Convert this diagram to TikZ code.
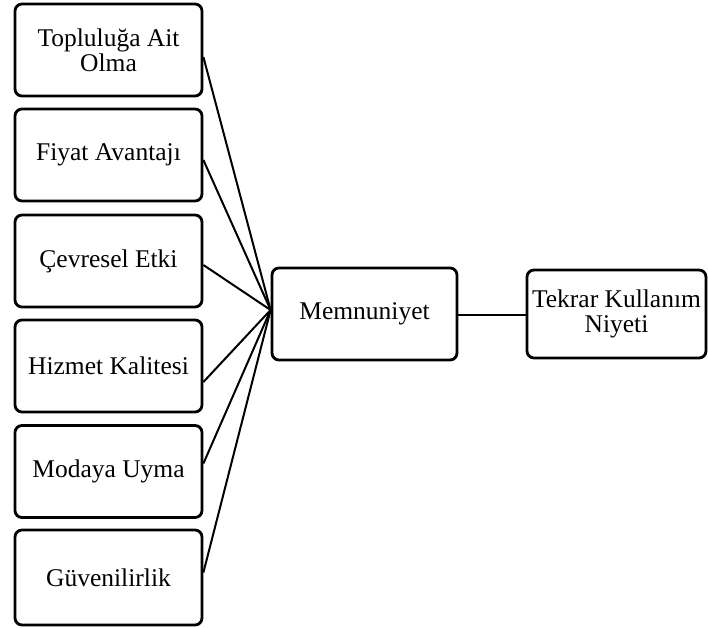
\documentclass[tikz,border=0pt]{standalone}
\usepackage{fontspec}
\setmainfont{Liberation Serif}
\begin{document}
\begin{tikzpicture}[x=1pt,y=1pt,
  box/.style={draw, line width=2.8pt, rounded corners=7pt, minimum width=187pt, minimum height=92pt, align=center, inner sep=2pt, font=\fontsize{25.5}{25}\selectfont},
  conn/.style={line width=2pt}]
\useasboundingbox (0,0) rectangle (708,627);
\node[box] (b1) at (108.5,577) {Topluluğa Ait\\Olma};
\node[box] (b2) at (108.5,472) {Fiyat Avantajı};
\node[box] (b3) at (108.5,366) {Çevresel Etki};
\node[box] (b4) at (108.5,261) {Hizmet Kalitesi};
\node[box] (b5) at (108.5,155.5) {Modaya Uyma};
\node[box, minimum height=95pt] (b6) at (108.5,49.5) {Güvenilirlik};
\node[box, minimum width=185pt] (m) at (364.5,313) {Memnuniyet};
\node[box, minimum width=179pt, minimum height=88pt] (t) at (616.5,313) {Tekrar Kullanım\\Niyeti};
\coordinate (c) at ([yshift=4pt]m.west);
\draw[conn] ([yshift=-7pt]b1.east) -- (c);
\draw[conn] ([yshift=-5pt]b2.east) -- (c);
\draw[conn] ([yshift=-4pt]b3.east) -- (c);
\draw[conn] ([yshift=-16pt]b4.east) -- (c);
\draw[conn] ([yshift=8pt]b5.east) -- (c);
\draw[conn] ([yshift=5pt]b6.east) -- (c);
\draw[conn] ([yshift=-1pt]m.east) -- ([yshift=-1pt]t.west);
\end{tikzpicture}
\end{document}
